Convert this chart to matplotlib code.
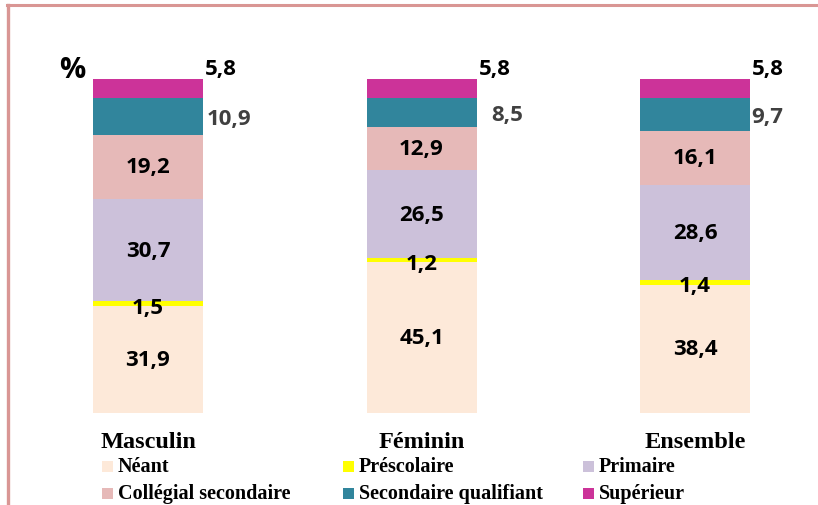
import matplotlib
matplotlib.use("Agg")
import matplotlib.pyplot as plt
from matplotlib.lines import Line2D
from matplotlib.patches import Rectangle
import numpy as np

categories = ["Masculin", "Féminin", "Ensemble"]
series_names = ["Néant", "Préscolaire", "Primaire", "Collégial secondaire",
                "Secondaire qualifiant", "Supérieur"]
neant = [31.9, 45.1, 38.4]
prescolaire = [1.5, 1.2, 1.4]
primaire = [30.7, 26.5, 28.6]
collegial = [19.2, 12.9, 16.1]
sec_qualifiant = [10.9, 8.5, 9.7]
superieur = [5.8, 5.8, 5.8]
series_values = [neant, prescolaire, primaire, collegial, sec_qualifiant, superieur]
colors = ["#FDE9D9", "#FFFF00", "#CCC1DA", "#E6B9B8", "#31859C", "#CC3399"]
label_labels = [[f"{v:.1f}".replace(".", ",") for v in s] for s in series_values]

W, H = 818, 506
fig = plt.figure(figsize=(W / 100, H / 100), dpi=100)
ax = fig.add_axes([0, 0, 1, 1])
ax.set_axis_off()

# pixel mapping: bar centers at 148, 421.5, 695 px; y=0 at 414 px, y=100 at 80 px
spacing = 273.5
x0 = 148
ax.set_xlim(-x0 / spacing, (W - x0) / spacing)
ppu = 3.34
base = 414
ax.set_ylim(-(H - base) / ppu, base / ppu)

x = np.arange(len(categories))
bw = 110 / spacing
sans = "Open Sans"
serif = "Liberation Serif"
bottom = np.zeros(len(categories))
dx_px = 1 / spacing  # one pixel in data units (x)
dy_px = 1 / ppu
outside_dx = [4, 15, 1]
fs = 16
for i, (name, vals, col) in enumerate(zip(series_names, series_values, colors)):
    vals = np.array(vals)
    ax.bar(x, vals, bw, bottom=bottom, color=col, edgecolor="none", label=name)
    for j in range(len(categories)):
        txt = label_labels[i][j]
        if i in (0, 2, 3):
            ax.text(x[j], bottom[j] + vals[j] / 2, txt, ha="center", va="center",
                    fontsize=fs, fontweight="bold", family=sans, color="black")
        elif i == 1:
            ax.text(x[j], bottom[j] - 1 * dy_px, txt, ha="center", va="center",
                    fontsize=fs, fontweight="bold", family=sans, color="black")
        elif i == 4:
            ax.text(x[j] + bw / 2 + outside_dx[j] * dx_px,
                    bottom[j] + vals[j] / 2 - 1.5 * dy_px, txt,
                    ha="left", va="center", fontsize=fs, fontweight="bold",
                    family=sans, color="#404040")
        else:
            ax.text(x[j] + bw / 2 + 2 * dx_px, bottom[j] + vals[j] + 10 * dy_px, txt,
                    ha="left", va="center", fontsize=fs, fontweight="bold",
                    family=sans, color="black")
    bottom += vals

# category labels
for j, c in enumerate(categories):
    ax.text(x[j], -29 * dy_px, c, ha="center", va="center", fontsize=17.5,
            fontweight="bold", family=serif)

# percent sign
ax.text(x[0] - 76 * dx_px, 102.7, "%", ha="center", va="center", fontsize=21,
        fontweight="bold", family=sans)

# legend (manual, 3 columns)
col_x = [102, 343, 583]
row_y = [467, 494]
for k, (name, col) in enumerate(zip(series_names, colors)):
    r, c = divmod(k, 3)
    px, py = col_x[c], row_y[r]
    fig.patches.append(Rectangle((px / W, 1 - (py + 5.5) / H), 11 / W, 11 / H,
                                 transform=fig.transFigure, facecolor=col,
                                 edgecolor="none"))
    fig.text((px + 16) / W, 1 - py / H, name, ha="left", va="center",
             fontsize=14.5, fontweight="bold", family=serif)

# border
bc = "#D99694"
fig.add_artist(Line2D([8 / W, 8 / W], [0, 1 - 6 / H], color=bc, lw=2.4,
                      transform=fig.transFigure))
fig.add_artist(Line2D([7 / W, 1], [1 - 6 / H, 1 - 6 / H], color=bc, lw=2.2,
                      transform=fig.transFigure))

fig.savefig("out.png", dpi=100)
